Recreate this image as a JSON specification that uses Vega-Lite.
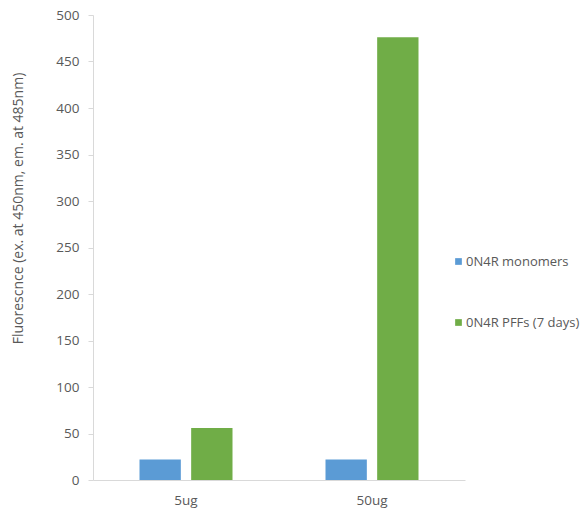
{
  "$schema": "https://vega.github.io/schema/vega-lite/v6.json",
  "autosize": "none",
  "width": 372,
  "height": 465,
  "padding": {"left": 93, "top": 15, "right": 123, "bottom": 30},
  "background": "white",
  "data": {
    "values": [
      {"group": "5ug", "series": "0N4R monomers", "value": 22},
      {"group": "5ug", "series": "0N4R PFFs (7 days)", "value": 56},
      {"group": "50ug", "series": "0N4R monomers", "value": 22},
      {"group": "50ug", "series": "0N4R PFFs (7 days)", "value": 476}
    ]
  },
  "mark": {"type": "bar"},
  "encoding": {
    "x": {
      "field": "group", "type": "nominal", "sort": ["5ug", "50ug"],
      "scale": {"paddingInner": 0.5, "paddingOuter": 0.25},
      "axis": {"title": null, "labelAngle": 0, "ticks": false, "domainColor": "#d9d9d9", "domainWidth": 1, "labelPadding": 13, "labelColor": "#595959", "labelFontSize": 13.5, "labelFont": "Open Sans"}
    },
    "xOffset": {
      "field": "series", "type": "nominal", "sort": ["0N4R monomers", "0N4R PFFs (7 days)"],
      "scale": {"paddingInner": 0.2, "paddingOuter": 0}
    },
    "y": {
      "field": "value", "type": "quantitative",
      "scale": {"domain": [0, 500]},
      "axis": {"title": "Fluorescnce (ex. at 450nm, em. at 485nm)", "values": [0, 50, 100, 150, 200, 250, 300, 350, 400, 450, 500], "grid": false, "domainColor": "#d9d9d9", "tickColor": "#d9d9d9", "tickSize": 5, "labelPadding": 9, "labelColor": "#595959", "labelFontSize": 13.5, "labelFont": "Open Sans", "titleColor": "#595959", "titleFont": "Open Sans", "titleFontSize": 14, "titleFontWeight": "normal", "titlePadding": 30, "titleY": 193}
    },
    "color": {
      "field": "series", "type": "nominal",
      "scale": {"domain": ["0N4R monomers", "0N4R PFFs (7 days)"], "range": ["#5b9bd5", "#70ad47"]},
      "legend": {"title": null, "orient": "none", "legendX": 359, "legendY": 240, "symbolType": "square", "symbolSize": 45, "symbolStrokeWidth": 0, "rowPadding": 47, "labelFontSize": 13, "labelColor": "#595959", "labelFont": "Open Sans", "labelOffset": 1, "labelLimit": 200}
    }
  },
  "config": {"view": {"stroke": null}}
}
